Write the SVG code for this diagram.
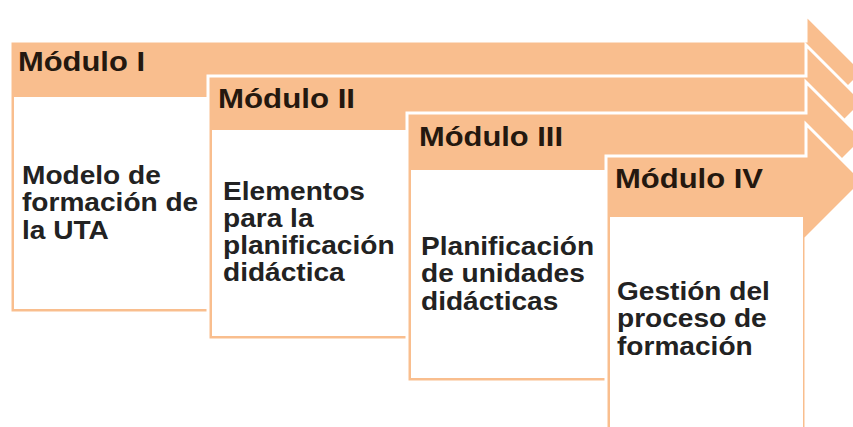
<svg xmlns="http://www.w3.org/2000/svg" width="853" height="427" viewBox="0 0 853 427">
  <style>
    .shape { fill: #F9BE8E; stroke: #FFFFFF; stroke-width: 3; stroke-linejoin: miter; }
    .body { fill: #FFFFFF; }
    .hdr { font-family: "Liberation Sans", Arial, sans-serif; font-weight: bold; font-size: 27px; fill: #24180F; }
    .txt { font-family: "Liberation Sans", Arial, sans-serif; font-weight: bold; font-size: 26px; fill: #222222; }
  </style>
  <rect x="0" y="0" width="853" height="427" fill="#FFFFFF"/>

  <g id="modulo-1">
    <path class="shape" d="M10,41 H806 V15 L863,72 L806,129 V313 H10 Z"/>
    <rect class="body" x="14" y="97" width="789" height="212"/>
    <text class="hdr" x="18" y="71" textLength="127" lengthAdjust="spacingAndGlyphs">Módulo I</text>
    <text class="txt" transform="translate(22,0) scale(1.08,1)" x="0" y="184">Modelo de<tspan x="0" dy="27.5">formación de</tspan><tspan x="0" dy="27.5">la UTA</tspan></text>
  </g>

  <g id="modulo-2">
    <path class="shape" d="M208,76 H806 V45 L863,102 L806,159 V340 H208 Z"/>
    <rect class="body" x="212" y="130" width="591" height="206"/>
    <text class="hdr" x="218" y="108" textLength="137" lengthAdjust="spacingAndGlyphs">Módulo II</text>
    <text class="txt" transform="translate(223,0) scale(1.08,1)" x="0" y="200">Elementos<tspan x="0" dy="27">para la</tspan><tspan x="0" dy="27">planificación</tspan><tspan x="0" dy="27">didáctica</tspan></text>
  </g>

  <g id="modulo-3">
    <path class="shape" d="M407,113 H806 V82 L863,139 L806,196 V382 H407 Z"/>
    <rect class="body" x="411" y="170" width="392" height="208"/>
    <text class="hdr" x="419" y="146" textLength="144" lengthAdjust="spacingAndGlyphs">Módulo III</text>
    <text class="txt" transform="translate(421,0) scale(1.08,1)" x="0" y="255">Planificación<tspan x="0" dy="27.5">de unidades</tspan><tspan x="0" dy="27.5">didácticas</tspan></text>
  </g>

  <g id="modulo-4">
    <path class="shape" d="M606,156 H806 V124 L863,181 L806,238 V440 H606 Z"/>
    <rect class="body" x="610" y="217" width="193" height="220"/>
    <text class="hdr" x="615" y="188" textLength="148" lengthAdjust="spacingAndGlyphs">Módulo IV</text>
    <text class="txt" transform="translate(617,0) scale(1.08,1)" x="0" y="300">Gestión del<tspan x="0" dy="27.5">proceso de</tspan><tspan x="0" dy="27.5">formación</tspan></text>
  </g>

  <g id="connectors"></g>
</svg>
